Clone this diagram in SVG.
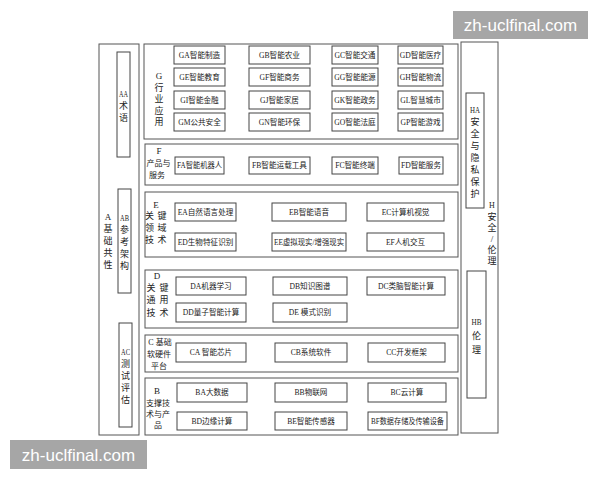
<svg xmlns="http://www.w3.org/2000/svg" width="600" height="480" viewBox="0 0 600 480">
<style>
.frame{fill:#fff;stroke:#555;stroke-width:1}
.box{fill:#fff;stroke:#444;stroke-width:1}
.t{font-family:"Liberation Serif","Noto Sans CJK SC",serif;font-size:7.6px;fill:#222;text-anchor:middle}
.v{font-family:"Liberation Serif","Noto Sans CJK SC",serif;font-size:9px;fill:#222;text-anchor:middle}
.s{font-family:"Liberation Serif","Noto Sans CJK SC",serif;font-size:8px;fill:#222;text-anchor:middle}
.l{font-family:"Liberation Serif","Noto Sans CJK SC",serif;font-size:9px;fill:#222;text-anchor:middle}
.wm{fill:#a6a6a6}
.wmt{font-family:"Liberation Sans",sans-serif;font-size:17px;fill:#fff;text-anchor:middle}
</style>
<rect width="600" height="480" fill="#fff"/>

<g id="A">
<rect class="frame" x="99" y="44" width="40" height="391"/>
<text class="v" x="108" y="220">A</text>
<text class="v" x="108" y="232">基</text>
<text class="v" x="108" y="244">础</text>
<text class="v" x="108" y="256">共</text>
<text class="v" x="108" y="268">性</text>
</g>
<g id="AA">
<rect class="box" x="117" y="52" width="13" height="105"/>
<text class="l" x="123.5" y="97" textLength="9" lengthAdjust="spacingAndGlyphs">AA</text>
<text class="v" x="123.5" y="109">术</text>
<text class="v" x="123.5" y="121">语</text>
</g>
<g id="AB">
<rect class="box" x="118" y="189" width="13" height="104"/>
<text class="l" x="124.5" y="221" textLength="9" lengthAdjust="spacingAndGlyphs">AB</text>
<text class="v" x="124.5" y="233">参</text>
<text class="v" x="124.5" y="245">考</text>
<text class="v" x="124.5" y="257">架</text>
<text class="v" x="124.5" y="269">构</text>
</g>
<g id="AC">
<rect class="box" x="119" y="323" width="13" height="104"/>
<text class="l" x="125.5" y="355" textLength="9" lengthAdjust="spacingAndGlyphs">AC</text>
<text class="v" x="125.5" y="367">测</text>
<text class="v" x="125.5" y="379">试</text>
<text class="v" x="125.5" y="391">评</text>
<text class="v" x="125.5" y="403">估</text>
</g>

<g id="G">
<rect class="frame" x="144" y="44" width="314" height="95"/>
<text class="v" x="159" y="79">G</text>
<text class="v" x="159" y="91">行</text>
<text class="v" x="159" y="102">业</text>
<text class="v" x="159" y="114">应</text>
<text class="v" x="159" y="125">用</text>
</g>
<g id="G-items">
<rect class="box" x="174" y="46" width="51" height="18"/><text class="t" x="199.5" y="57.8">GA智能制造</text>
<rect class="box" x="249" y="46" width="61" height="18"/><text class="t" x="279.5" y="57.8">GB智能农业</text>
<rect class="box" x="332" y="46" width="46" height="18"/><text class="t" x="355" y="57.8">GC智能交通</text>
<rect class="box" x="398" y="46" width="45" height="18"/><text class="t" x="420.5" y="57.8">GD智能医疗</text>
<rect class="box" x="174" y="68" width="51" height="18"/><text class="t" x="199.5" y="79.8">GE智能教育</text>
<rect class="box" x="249" y="68" width="61" height="18"/><text class="t" x="279.5" y="79.8">GF智能商务</text>
<rect class="box" x="332" y="68" width="46" height="18"/><text class="t" x="355" y="79.8">GG智能能源</text>
<rect class="box" x="398" y="68" width="45" height="18"/><text class="t" x="420.5" y="79.8">GH智能物流</text>
<rect class="box" x="174" y="91" width="51" height="18"/><text class="t" x="199.5" y="102.8">GI智能金融</text>
<rect class="box" x="249" y="91" width="61" height="18"/><text class="t" x="279.5" y="102.8">GJ智能家居</text>
<rect class="box" x="332" y="91" width="46" height="18"/><text class="t" x="355" y="102.8">GK智能政务</text>
<rect class="box" x="398" y="91" width="45" height="18"/><text class="t" x="420.5" y="102.8">GL智慧城市</text>
<rect class="box" x="174" y="113" width="51" height="18"/><text class="t" x="199.5" y="124.8">GM公共安全</text>
<rect class="box" x="249" y="113" width="61" height="18"/><text class="t" x="279.5" y="124.8">GN智能环保</text>
<rect class="box" x="332" y="113" width="46" height="18"/><text class="t" x="355" y="124.8">GO智能法庭</text>
<rect class="box" x="398" y="113" width="45" height="18"/><text class="t" x="420.5" y="124.8">GP智能游戏</text>
</g>

<g id="F">
<rect class="frame" x="145" y="144" width="313" height="41"/>
<text class="v" x="159" y="154">F</text>
<text class="s" x="158.5" y="166">产品与</text>
<text class="s" x="157" y="178">服务</text>
</g>
<g id="F-items">
<rect class="box" x="175" y="157" width="49" height="17"/><text class="t" x="199.5" y="168.3" textLength="45" lengthAdjust="spacingAndGlyphs">FA智能机器人</text>
<rect class="box" x="249" y="157" width="61" height="17"/><text class="t" x="279.5" y="168.3">FB智能运载工具</text>
<rect class="box" x="332" y="157" width="46" height="17"/><text class="t" x="355" y="168.3">FC智能终端</text>
<rect class="box" x="399" y="157" width="44" height="17"/><text class="t" x="421" y="168.3">FD智能服务</text>
</g>

<g id="E">
<rect class="frame" x="145" y="192" width="313" height="65"/>
<text class="v" x="156" y="208">E</text>
<text class="v" x="149.5" y="219">关</text><text class="v" x="162" y="219">键</text>
<text class="v" x="149.5" y="231">领</text><text class="v" x="162" y="231">域</text>
<text class="v" x="149.5" y="243">技</text><text class="v" x="162" y="243">术</text>
</g>
<g id="E-items">
<rect class="box" x="175" y="203" width="61" height="18"/><text class="t" x="205.5" y="214.8">EA自然语言处理</text>
<rect class="box" x="272" y="203" width="74" height="18"/><text class="t" x="309" y="214.8">EB智能语音</text>
<rect class="box" x="367" y="203" width="77" height="18"/><text class="t" x="405.5" y="214.8">EC计算机视觉</text>
<rect class="box" x="175" y="233" width="61" height="18"/><text class="t" x="205.5" y="244.8">ED生物特征识别</text>
<rect class="box" x="272" y="233" width="74" height="18"/><text class="t" x="309" y="244.8" textLength="70" lengthAdjust="spacingAndGlyphs">EE虚拟现实/增强现实</text>
<rect class="box" x="367" y="233" width="77" height="18"/><text class="t" x="405.5" y="244.8">EF人机交互</text>
</g>

<g id="D">
<rect class="frame" x="145" y="270" width="313" height="58"/>
<text class="v" x="157" y="279">D</text>
<text class="v" x="151" y="291">关</text><text class="v" x="164" y="291">键</text>
<text class="v" x="151" y="303">通</text><text class="v" x="164" y="303">用</text>
<text class="v" x="151" y="316">技</text><text class="v" x="164" y="316">术</text>
</g>
<g id="D-items">
<rect class="box" x="176" y="277" width="70" height="18"/><text class="t" x="211" y="288.8">DA机器学习</text>
<rect class="box" x="273" y="277" width="74" height="18"/><text class="t" x="310" y="288.8">DB知识图谱</text>
<rect class="box" x="367" y="277" width="78" height="18"/><text class="t" x="406" y="288.8">DC类脑智能计算</text>
<rect class="box" x="176" y="303" width="70" height="19"/><text class="t" x="211" y="315.3">DD量子智能计算</text>
<rect class="box" x="273" y="303" width="74" height="19"/><text class="t" x="310" y="315.3">DE 模式识别</text>
</g>

<g id="C">
<rect class="frame" x="145" y="335" width="313" height="37"/>
<text class="s" x="160" y="345">C 基础</text>
<text class="s" x="159" y="357">软硬件</text>
<text class="s" x="159" y="369">平台</text>
</g>
<g id="C-items">
<rect class="box" x="176" y="343" width="70" height="19"/><text class="t" x="211" y="355.3">CA 智能芯片</text>
<rect class="box" x="275" y="343" width="72" height="19"/><text class="t" x="311" y="355.3">CB系统软件</text>
<rect class="box" x="368" y="343" width="77" height="19"/><text class="t" x="406.5" y="355.3">CC开发框架</text>
</g>

<g id="B">
<rect class="frame" x="145" y="378" width="313" height="57"/>
<text class="v" x="157" y="394">B</text>
<text class="s" x="158" y="406">支撑技</text>
<text class="s" x="158" y="417">术与产</text>
<text class="s" x="158" y="428">品</text>
</g>
<g id="B-items">
<rect class="box" x="177" y="383" width="70" height="19"/><text class="t" x="212" y="395.3">BA大数据</text>
<rect class="box" x="275" y="383" width="72" height="19"/><text class="t" x="311" y="395.3">BB物联网</text>
<rect class="box" x="368" y="383" width="78" height="19"/><text class="t" x="407" y="395.3">BC云计算</text>
<rect class="box" x="177" y="412" width="70" height="18"/><text class="t" x="212" y="423.8">BD边缘计算</text>
<rect class="box" x="275" y="412" width="72" height="18"/><text class="t" x="311" y="423.8">BE智能传感器</text>
<rect class="box" x="368" y="412" width="79" height="18"/><text class="t" x="407.5" y="423.8" textLength="73" lengthAdjust="spacingAndGlyphs">BF数据存储及传输设备</text>
</g>

<g id="H">
<rect class="frame" x="461" y="42" width="37" height="391"/>
<text class="s" x="492" y="208">H</text>
<text class="v" x="492" y="220">安</text>
<text class="v" x="492" y="231">全</text>
<text class="v" x="492" y="242">/</text>
<text class="v" x="492" y="253">伦</text>
<text class="v" x="492" y="264">理</text>
</g>
<g id="HA">
<rect class="box" x="466" y="93" width="18" height="115"/>
<text class="l" x="475" y="113" textLength="10" lengthAdjust="spacingAndGlyphs">HA</text>
<text class="v" x="475" y="125">安</text>
<text class="v" x="475" y="137">全</text>
<text class="v" x="475" y="149">与</text>
<text class="v" x="475" y="161">隐</text>
<text class="v" x="475" y="173">私</text>
<text class="v" x="475" y="185">保</text>
<text class="v" x="475" y="197">护</text>
</g>
<g id="HB">
<rect class="box" x="467" y="271" width="19" height="127"/>
<text class="l" x="476.5" y="325" textLength="10" lengthAdjust="spacingAndGlyphs">HB</text>
<text class="v" x="476.5" y="339">伦</text>
<text class="v" x="476.5" y="353">理</text>
</g>

<g id="connectors"/>

<g id="watermarks">
<rect class="wm" x="453" y="11" width="135" height="28"/>
<text class="wmt" x="520.5" y="31">zh-uclfinal.com</text>
<rect class="wm" x="10" y="440" width="137" height="29"/>
<text class="wmt" x="78.5" y="461">zh-uclfinal.com</text>
</g>
</svg>
